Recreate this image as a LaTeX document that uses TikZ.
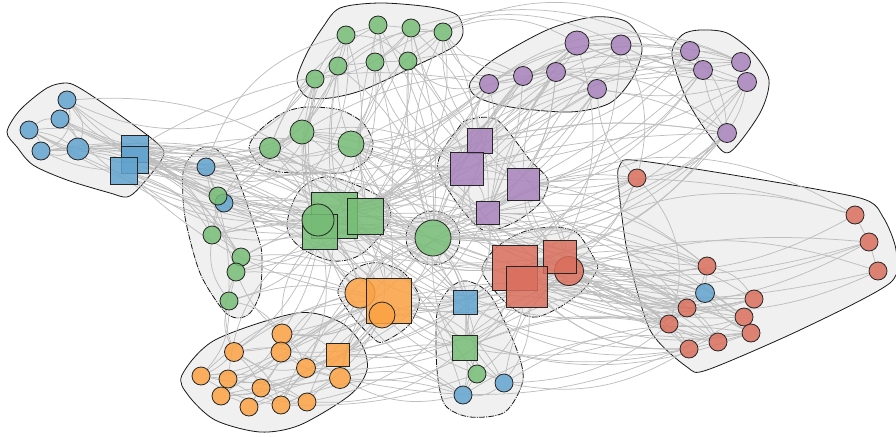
\documentclass[tikz,border=0pt]{standalone}
\pgfdeclarelayer{hulls}
\pgfdeclarelayer{edges}
\pgfsetlayers{hulls,edges,main}
\definecolor{cblue}{RGB}{98,163,206}
\definecolor{cgreen}{RGB}{118,188,118}
\definecolor{corange}{RGB}{252,163,68}
\definecolor{cred}{RGB}{218,110,92}
\definecolor{cpurple}{RGB}{168,130,188}
\definecolor{edgegray}{RGB}{190,190,190}
\definecolor{hullfill}{RGB}{240,240,240}
\begin{document}
\begin{tikzpicture}[x=1pt,y=-1pt,
  nd/.style={draw=black!85,line width=0.8pt,inner sep=0pt,fill opacity=0.85},
  cB/.style={nd,circle,fill=cblue,minimum size=#1},cB/.default=18,
  cG/.style={nd,circle,fill=cgreen,minimum size=#1},cG/.default=18,
  cO/.style={nd,circle,fill=corange,minimum size=#1},cO/.default=18,
  cR/.style={nd,circle,fill=cred,minimum size=#1},cR/.default=18,
  cP/.style={nd,circle,fill=cpurple,minimum size=#1},cP/.default=19,
  sB/.style={nd,rectangle,fill=cblue,minimum size=#1},
  sG/.style={nd,rectangle,fill=cgreen,minimum size=#1},
  sO/.style={nd,rectangle,fill=corange,minimum size=#1},
  sR/.style={nd,rectangle,fill=cred,minimum size=#1},
  sP/.style={nd,rectangle,fill=cpurple,minimum size=#1},
  hull/.style={fill=hullfill,draw=black!90,line width=0.8pt},
  dhull/.style={hull,dash pattern=on 6pt off 1.2pt on 1pt off 1.2pt},
  edge/.style={draw=edgegray,line width=0.75pt}]
\useasboundingbox (0,0) rectangle (896,436);

% ---------- nodes ----------
% blue top-left
\node[cB] (b1) at (67,100) {};
\node[cB] (b2) at (60,119) {};
\node[cB] (b3) at (29,130) {};
\node[cB] (b4) at (41,151) {};
\node[cB=22] (b5) at (78,149) {};
\node[sB=27] (bs1) at (135,149) {};
\node[sB=27] (bs2) at (135,160) {};
\node[sB=27] (bs3) at (124,171) {};
% column
\node[cB] (cb1) at (206,167) {};
\node[cB] (cb2) at (224,203) {};
\node[cG] (cg1) at (218,196) {};
\node[cG] (cg2) at (212,235) {};
\node[cG] (cg3) at (241,257) {};
\node[cG] (cg4) at (236,272) {};
\node[cG] (cg5) at (229,301) {};
% green top
\node[cG] (gt1) at (346,35) {};
\node[cG] (gt2) at (378,25) {};
\node[cG] (gt3) at (411,28) {};
\node[cG] (gt4) at (443,32) {};
\node[cG] (gt5) at (315,79) {};
\node[cG] (gt6) at (338,66) {};
\node[cG] (gt7) at (375,62) {};
\node[cG] (gt8) at (408,61) {};
% green mid
\node[cG=21] (gm1) at (270,148) {};
\node[cG=24] (gm2) at (302,132) {};
\node[cG=26] (gm3) at (351,144) {};
% green squares
\node[sG=46] (gs1) at (334.5,215) {};
\node[sG=35] (gs2) at (320,232) {};
\node[cG=32] (gc) at (318,220) {};
\node[sG=36] (gs3) at (365,216) {};
% green centre
\node[cG=36] (gcc) at (433,238) {};
% orange mid
\node[cO=30] (oc1) at (360,293) {};
\node[sO=45] (os) at (389,300.5) {};
\node[cO=26] (oc2) at (382,315) {};
% purple mid
\node[sP=25] (ps1) at (480,140.5) {};
\node[sP=33] (ps2) at (466.7,168.7) {};
\node[sP=32] (ps3) at (523,184) {};
\node[sP=23.5] (ps4) at (488,213) {};
% red mid
\node[cR=29] (rc) at (569,271) {};
\node[sR=45] (rs1) at (515,268) {};
\node[sR=33] (rs2) at (560,257) {};
\node[sR=41] (rs3) at (526.5,286.7) {};
% bottom mid
\node[sB=24] (bms) at (465,302) {};
\node[sG=25] (gms) at (465,347.5) {};
\node[cG] (bmg) at (477,374) {};
\node[cB] (bmb1) at (504,383) {};
\node[cB] (bmb2) at (463,395) {};
% orange bottom
\node[cO=20] (o1) at (282,334) {};
\node[cO=20] (o2) at (281,352) {};
\node[cO=19] (o3) at (234,352) {};
\node[cO] (o4) at (201,376) {};
\node[cO] (o5) at (228,379) {};
\node[cO] (o6) at (221,396) {};
\node[cO] (o7) at (249,407) {};
\node[cO] (o8) at (261,388) {};
\node[cO] (o9) at (281,405) {};
\node[cO] (o10) at (307,402) {};
\node[cO=19] (o11) at (306,368) {};
\node[sO=23] (osq) at (338,355) {};
\node[cO=21] (o12) at (340,378) {};
% purple top
\node[cP=24] (pt1) at (577,43) {};
\node[cP=20] (pt2) at (621,45) {};
\node[cP] (pt3) at (489,84) {};
\node[cP] (pt4) at (523,76) {};
\node[cP] (pt5) at (556,72) {};
\node[cP] (pt6) at (597,89) {};
% purple right
\node[cP] (pr1) at (690,51) {};
\node[cP] (pr2) at (703,70) {};
\node[cP] (pr3) at (741,62) {};
\node[cP] (pr4) at (747,82) {};
\node[cP] (pr5) at (727,133) {};
% red big
\node[cR] (r1) at (637,178) {};
\node[cR] (r2) at (855,215) {};
\node[cR] (r3) at (869,242) {};
\node[cR] (r4) at (878,271) {};
\node[cR] (r5) at (707,266) {};
\node[cB=19] (rb) at (705,293) {};
\node[cR] (r6) at (687,308) {};
\node[cR] (r7) at (669,324) {};
\node[cR] (r8) at (754,299) {};
\node[cR] (r9) at (744,317) {};
\node[cR] (r10) at (751,333) {};
\node[cR] (r11) at (718,342) {};
\node[cR] (r12) at (689,349) {};

% ---------- hulls ----------
\begin{pgfonlayer}{hulls}
\draw[hull] plot[smooth cycle,tension=0.5] coordinates {(67,83) (83,90) (117,113) (157,143) (163,157) (140,187) (127,197) (110,193) (67,180) (33,165) (17,147) (7,132) (20,110) (47,88)};
\draw[dhull] plot[smooth cycle,tension=0.5] coordinates {(205,147) (220,152) (237,177) (258,237) (262,257) (260,293) (250,313) (237,318) (223,310) (200,273) (185,217) (183,173) (192,155)};
\draw[hull] plot[smooth cycle,tension=0.5] coordinates {(340,8) (380,3) (430,7) (457,15) (463,33) (453,47) (413,67) (363,90) (330,98) (307,97) (297,80) (307,53) (323,27)};
\draw[dhull] plot[smooth cycle,tension=0.5] coordinates {(249,147) (260,130) (283,113) (307,107) (340,110) (363,123) (373,143) (367,160) (347,172) (317,173) (280,172) (260,165)};
\draw[dhull] plot[smooth cycle,tension=0.55] coordinates {(330,177) (380,197) (390,220) (363,253) (333,261) (300,247) (287,225) (300,190)};
\draw[dhull] (433,238) circle[radius=27];
\draw[dhull] plot[smooth cycle,tension=0.5] coordinates {(380,263) (403,272) (418,293) (418,308) (407,327) (383,342) (373,338) (353,317) (338,293) (347,275) (363,265)};
\draw[dhull] plot[smooth cycle,tension=0.5] coordinates {(467,120) (497,120) (530,160) (548,180) (540,203) (513,223) (483,230) (457,203) (438,170) (443,150) (457,130)};
\draw[dhull] plot[smooth cycle,tension=0.5] coordinates {(482,270) (497,247) (523,232) (553,227) (577,233) (595,260) (597,270) (583,290) (560,307) (537,317) (520,313) (500,297)};
\draw[dhull] plot[smooth cycle,tension=0.5] coordinates {(467,281) (490,295) (515,345) (523,380) (505,412) (470,417) (445,405) (437,370) (437,313) (450,288)};
\draw[hull] plot[smooth cycle,tension=0.5] coordinates {(182,375) (215,340) (297,313) (340,322) (362,345) (367,370) (350,395) (300,425) (260,432) (215,420) (188,395)};
\draw[hull] plot[smooth cycle,tension=0.5] coordinates {(470,83) (493,60) (547,30) (593,17) (627,22) (642,47) (633,77) (610,103) (570,112) (510,107) (477,97)};
\draw[hull] plot[smooth cycle,tension=0.5] coordinates {(672,55) (682,35) (700,30) (727,33) (753,53) (769,80) (760,113) (730,152) (713,140) (687,100)};
\draw[hull] plot[smooth cycle,tension=0.45] coordinates {(620,165) (633,160) (733,175) (860,198) (883,217) (896,250) (890,283) (800,330) (707,370) (687,367) (650,330) (627,250) (618,180)};
\end{pgfonlayer}

% ---------- edges ----------
\begin{pgfonlayer}{edges}
\foreach \a/\b/\c in {
 b1/b2/10, b1/b5/15, b2/b3/-10, b3/b4/10, b4/b5/-10, b2/b5/10, b3/b5/5, b1/bs1/-10, b2/bs1/-5, b3/bs2/10, b4/bs3/-5, b5/bs1/5, b1/b4/20, b3/bs1/-8, b4/bs2/6,
 bs1/gs1/10, bs1/gm1/-10, bs1/gm3/-15, bs2/gs2/5, bs3/cg2/10, bs1/gcc/-8, bs2/ps2/-12, bs1/bms/15, bs3/oc1/10, b1/gm2/-15, b5/gs3/10, b2/gcc/-5, b4/cg3/15, bs2/rs1/10, bs1/pt3/-15, b3/gs2/-5, b1/gs1/-10, bs3/bmb2/20, bs2/os/10, b5/cb1/5, bs1/cb1/0, bs3/gc/5, bs2/gm3/-5, b2/gm1/-8, bs2/gcc/6, bs3/gs1/-6, b4/cg1/10, bs1/ps1/-8, b5/gm2/-12, bs2/cg4/12,
 cb1/cg1/0, cg1/cg2/0, cg2/cg3/5, cg3/cg4/0, cg4/cg5/0, cb1/cg5/5, cg2/cg5/-10, cb1/cg3/-6,
 cb1/gs1/10, cg1/gcc/5, cg2/gs2/-5, cg3/os/10, cg4/oc1/5, cg5/gs1/-10, cg1/ps2/-10, cg2/rs1/8, cg3/gm3/-10, cg4/gcc/5, cb2/bms/10, cg5/o1/10, cg1/gt5/-20, cg3/ps4/-10, cb1/gm2/-8, cg2/gm1/10, cg4/gs3/-6, cg5/os/8, cb2/gs3/5,
 gt1/gt2/0, gt2/gt3/0, gt3/gt4/0, gt5/gt6/0, gt6/gt7/0, gt7/gt8/0, gt1/gt6/5, gt2/gt7/-5, gt4/gt8/5, gt1/gt8/10, gt5/gt3/-10, gt6/gt4/10, gt5/gt1/5, gt3/gt7/5,
 gt5/gm2/5, gt6/gm3/-5, gt1/gs1/10, gt2/gs3/-5, gt3/gcc/5, gt4/ps1/-10, gt7/gs2/10, gt8/gcc/-5, gt5/gs2/-5, gt6/gm1/10, gt3/gm3/5, gt4/gs3/15, gt2/ps2/-10, gt1/cg2/20, gt8/pt3/-15, gt7/oc1/10, gt6/os/-10, gt5/bs1/15, gt3/gm2/-10, gt4/pt4/-10, gt8/ps3/-10, gt7/gm3/6, gt5/gm1/-6, gt1/gm2/4, gt2/gcc/8, gt6/gs1/-4, gt8/ps2/6, gt4/gm3/-8, gt3/ps1/-8,
 gm1/gm2/0, gm2/gm3/0, gm1/gm3/-10, gm1/gs2/5, gm2/gs1/-5, gm3/gs3/5, gm3/gcc/-10, gm2/ps2/10, gm1/cg1/10, gm3/ps1/-10, gm2/rs1/15, gm3/os/10, gm1/gcc/-6, gm2/gs3/8, gm3/pt3/-8,
 gs1/gcc/5, gs3/gcc/-5, gs2/oc1/10, gs1/os/-10, gs3/ps2/10, gs2/rs3/-15, gs1/ps4/5, gs3/rs1/-10, gc/bms/10, gs1/o2/10, gs2/cg3/-5, gs3/pt4/-10, gs1/r5/15, gs2/pr2/-10, gs1/ps1/-6, gs3/oc2/8, gc/gcc/-6, gs2/o1/5,
 gcc/ps2/5, gcc/rs1/-10, gcc/os/10, gcc/bms/-5, gcc/ps4/10, gcc/rc/5, gcc/pt3/-10, gcc/r8/10, gcc/gms/10, gcc/o12/-10, gcc/ps3/-6, gcc/r6/8,
 oc1/os/0, os/oc2/0, oc1/o2/5, os/o12/-10, oc2/osq/5, os/o9/10, oc1/o3/-5, os/rs3/-10, oc2/bms/5, os/ps4/10, oc1/o11/5, os/o1/10, oc2/o6/-5, os/gms/-5, oc1/gs2/6, oc2/rs1/-8,
 o1/o2/0, o3/o4/5, o4/o5/0, o5/o6/0, o6/o7/5, o7/o8/0, o8/o9/0, o9/o10/0, o10/o12/5, o11/o12/0, o2/o11/5, o3/o11/-10, o4/o10/10, o5/o12/-5, o1/osq/10, o2/o8/5, o3/o9/10, o4/osq/-10, o6/o11/-8, o7/o12/5, o8/o11/-5, o5/o2/-10, o3/o12/12, o6/o10/10, o4/o2/-5, o9/osq/10, o1/o5/10, o7/o11/-10, o5/o10/-8, o3/o8/5, o1/o11/6, o4/o9/-6, o6/osq/8, o2/o12/-6,
 o1/gs2/10, o2/rs1/-10, o11/gms/-5, o12/bmb2/10, osq/bms/-5, o10/gms/-10, o3/cg5/10, o1/gcc/-10, o12/rs3/-15, o11/ps4/-10, o9/bmg/-5, osq/rc/-10, o2/os/5, o3/gs2/-8, o1/cg4/6,
 ps1/ps2/0, ps2/ps3/5, ps3/ps4/0, ps1/ps3/-5, ps2/ps4/5, ps1/pt3/10, ps1/pt5/-5, ps2/pt4/5, ps3/pt1/10, ps3/pt6/-5, ps4/pt5/5, ps1/pr1/-10, ps3/pr2/-10, ps2/pr4/-5, ps4/rs2/5, ps3/rs2/-10, ps1/gs3/10, ps4/gs1/-10, ps2/gm3/5, ps3/rc/10, ps4/bms/10, ps3/r1/-10, ps1/pr5/5, ps2/pt6/-10, ps4/pt3/-6, ps2/pt2/8,
 pt3/pt4/0, pt4/pt5/0, pt5/pt1/-5, pt1/pt2/0, pt5/pt6/5, pt3/pt1/-10, pt4/pt6/10, pt3/pt2/8, pt4/pt1/-6,
 pt3/gs1/10, pt4/gcc/-5, pt5/ps4/10, pt1/pr1/-10, pt2/pr3/-10, pt2/pr2/-5, pt6/pr5/5, pt1/pr4/-5, pt5/ps3/5, pt6/ps2/-10, pt3/gt4/10, pt4/gt8/-10, pt3/gm3/10, pt2/r1/10, pt5/pr5/10, pt1/rs2/10, pt2/ps3/-5, pt4/ps4/5, pt3/bs1/-10, pt5/gs3/-10, pt6/gcc/6, pt4/gm2/-8,
 pr1/pr2/0, pr1/pr3/5, pr2/pr4/-5, pr3/pr4/0, pr4/pr5/5, pr2/pr5/-5, pr1/pr5/10,
 pr1/pt3/-10, pr2/ps2/-10, pr3/pt4/-10, pr4/ps3/10, pr5/ps1/-5, pr1/gcc/-10, pr5/ps4/10, pr3/gs3/-10, pr2/pt5/5, pr4/rs2/10, pr5/gs1/-5, pr1/ps3/5, pr3/pt1/-8, pr4/pt6/6, pr2/gm3/-8,
 rs1/rs2/0, rs1/rs3/0, rs2/rc/0, rs3/rc/5, rs1/rc/10, rs2/r1/-10, rc/r5/-5, rc/rb/5, rs3/r6/5, rs3/r7/10, rs1/r8/-10, rs2/r9/-5, rc/r10/5, rs3/r12/10, rs1/r11/15, rs2/r2/-10, rc/r3/-5, rs3/r4/-5, rs1/bms/5, rs3/gms/-10, rs2/ps3/5, rs1/os/10, rc/r6/-6, rs2/r5/6, rs3/r9/8, rc/r7/-4,
 r5/rb/0, rb/r6/0, r6/r7/0, r7/r12/5, r12/r11/0, r11/r10/0, r10/r9/0, r9/r8/0, r8/r6/-5, rb/r9/-5, r5/r8/10, r6/r10/5, r7/r11/-5, r2/r3/0, r3/r4/0, r1/r7/15, r6/r11/8, rb/r10/-8, r5/r6/5, r7/r9/-6, r12/r10/6,
 r5/ps3/10, r6/rs1/-10, r7/gcc/-10, r8/ps4/15, r9/rs2/10, r10/bmb1/-10, r11/gms/-10, r12/rs3/10, r2/ps3/-5, r3/rc/-5, r4/rs3/-10, r1/ps3/5, r1/pr5/-10, r7/os/-5, rb/gms/-10, r12/bmb1/10, r8/gm3/10, r6/cg2/-10, r9/o12/10, r11/bmb2/-10, r12/os/10, r5/gs3/10, r10/rs3/10, rb/rc/-5, r1/rs1/-8, r1/gcc/6, r7/rs1/6,
 bms/gms/0, gms/bmg/0, bmg/bmb2/0, bmg/bmb1/5, bmb1/bmb2/10, bms/bmb1/-10, gms/bmb1/-5, bms/bmb2/10, gms/bmb2/5, bms/os/5, gms/os/10, bmb1/rs3/-10, bmb2/o12/10, bmg/oc2/5, bmb1/r6/-10, bms/gcc/-5, gms/rs1/-10, bmb2/osq/-10, bms/gs1/8, gms/gs2/-8,
 b1/gs3/12, b2/gs1/-14, b5/gcc/8, bs1/gs2/-6, bs2/gc/6, bs3/gs2/-10, bs1/gm2/-18, bs2/cg2/14, bs3/cg3/8, b4/gs1/10, b3/gcc/-6, bs1/rs2/-10, bs2/ps4/12, bs3/os/-8, bs1/ps3/-14, b1/gt5/-15,
 pr1/gt4/-15, pr2/gt3/-12, pr3/pt3/-15, pr1/gs3/-10, pr4/gcc/12, pr5/gcc/10, pr5/rs1/8, pr3/ps1/-12, pr2/ps4/10, pr4/pt4/-10, pr1/pt4/-8,
 pt1/gt4/-12, pt2/gt7/-15, pt6/gm3/10, pt5/gs1/12, pt3/gc/10, pt4/gs2/8, pt1/ps2/-8, pt6/ps4/-10, pt2/rs1/10,
 gt1/gs2/-12, gt2/gm3/10, gt3/gs1/12, gt4/gcc/-10, gt5/gc/-8, gt6/gcc/10, gt7/ps2/-12, gt8/gs3/8, gt2/gm1/-10, gt4/ps2/10, gt3/ps4/12, gt1/cb1/-14, gt5/cg1/10,
 gm1/ps2/-12, gm2/gcc/10, gm3/ps2/-8, gm1/os/12, gm2/oc1/-10, gm3/rs1/-12, gm1/bs2/10,
 gs1/ps2/12, gs3/ps4/-8, gs2/bms/12, gs1/rs2/-12, gc/oc1/8, gs3/rc/10, gs1/r6/-12, gs2/o11/8, gs3/ps3/-10,
 gcc/r5/10, gcc/pr5/-12, gcc/r12/12, gcc/oc1/-10, gcc/pt5/12,
 os/ps2/-12, os/rs1/10, oc1/bms/-10, oc2/gms/10, os/rc/-12, oc1/gcc/12,
 o1/os/-10, o2/oc1/12, o3/oc1/-10, o4/os/10, o5/gs2/12, o6/os/-12, o7/os/10, o8/oc2/-10, o9/os/12, o10/oc2/10, o11/os/-10, o12/os/8, osq/oc2/-10, o12/gms/10, osq/rs3/-12, o11/gcc/10, o10/bms/-10, o4/cg5/-10, o3/cg4/10,
 rs1/ps2/10, rs2/ps4/-10, rs3/bms/10, rs1/gm2/-12, rs2/gs1/12, rc/ps1/-10,
 r2/rs1/-12, r3/rs3/10, r4/rc/12, r2/ps4/-15, r3/gcc/10,
 r5/rs1/-10, r6/rs2/10, r7/rs3/-12, r8/rc/10, r9/rs1/-12, r10/rc/12, r11/rs3/-10, r12/rs1/12, r6/gms/10, r7/bms/-10, r8/rs3/10, r9/gcc/-12, r10/os/12, r11/os/-10, r12/gs1/10, rb/rs1/10, rb/rs3/-10, r5/ps4/-12, r1/rs3/10, r1/ps4/-10, r1/pt6/10, r7/gms/-8, r12/bms/10, r6/ps4/-12,
 bmg/rs3/-10, bmb2/gs2/10, bmb1/os/-12, bmg/gcc/10, bms/ps4/-10, gms/gcc/-12, bmb2/o9/-10, bmb1/rc/10}
 {\pgfmathsetmacro\bb{2*\c}
  \draw[edge] (\a) to[bend left=\bb] (\b);}
\end{pgfonlayer}
\end{tikzpicture}
\end{document}
